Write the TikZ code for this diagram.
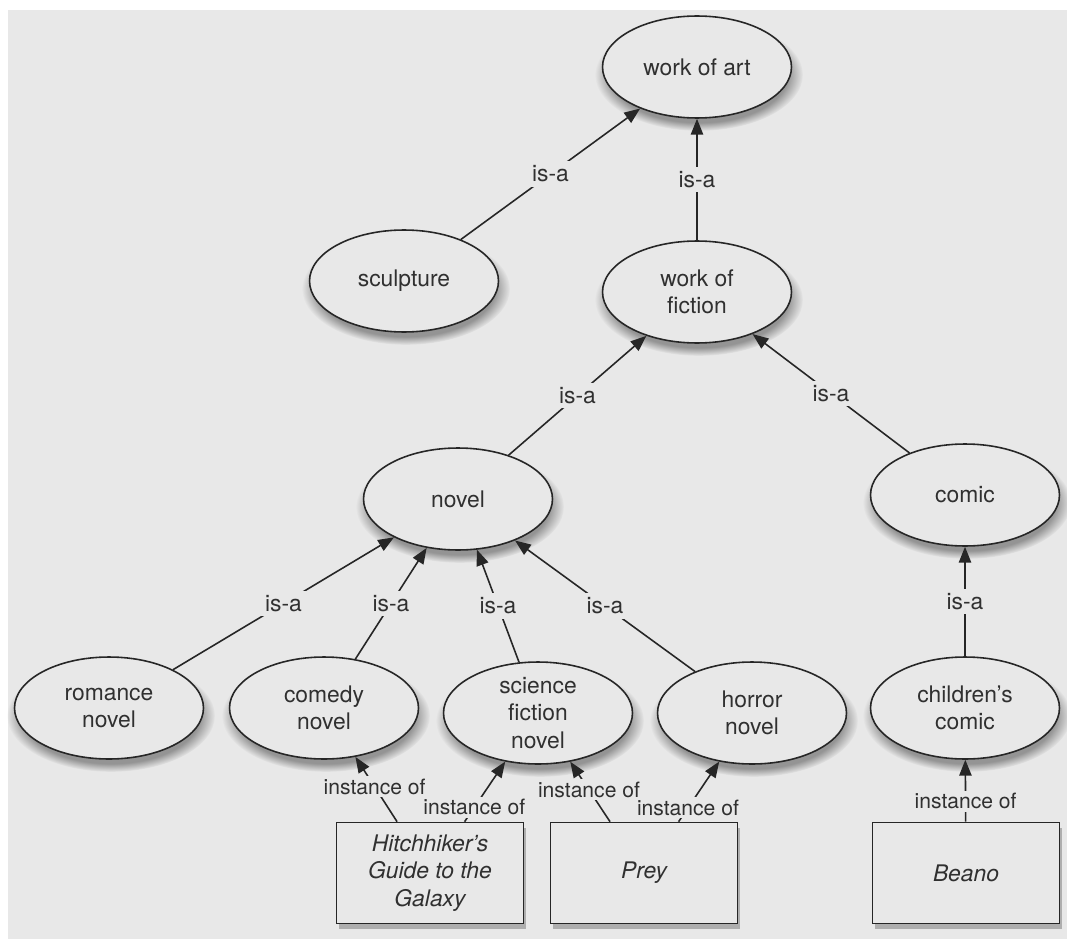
\documentclass[tikz,border=0pt]{standalone}
\usepackage{fontspec}
\setmainfont{TeX Gyre Heros}
\usetikzlibrary{positioning}
\usetikzlibrary{shapes.geometric}
\usetikzlibrary{shadows}
\usetikzlibrary{arrows.meta}
\definecolor{bg}{HTML}{E8E8E8}
\definecolor{ink}{HTML}{303030}

\begin{document}
\begin{tikzpicture}[x=0.02cm, y=-0.02cm,
	concept/.style = {draw=black!85, line width=0.9pt, ellipse, fill=bg, text=ink, align=center, inner sep=0pt, minimum width=3.78cm, minimum height=2.04cm, font=\fontsize{13}{15.5}\selectfont, circular drop shadow={shadow scale=1.1, shadow xshift=1pt, shadow yshift=-4pt, opacity=.8}},
	work/.style = {draw=black!85, line width=0.9pt, rectangle, fill=bg, text=ink, align=center, inner sep=0pt, minimum width=3.74cm, minimum height=2.02cm, font=\fontsize{13}{15.5}\selectfont\itshape, drop shadow={shadow xshift=1.5pt, shadow yshift=-3pt, opacity=.55}},
	rel/.style = {fill=bg, text=ink, inner sep=2.5pt, font=\fontsize{13}{15}\selectfont},
	inst/.style = {fill=bg, text=ink, inner sep=1.5pt, font=\fontsize{12}{14}\selectfont},
	arr/.style = {draw=black!85, line width=0.9pt, -{Triangle[length=9pt,width=7pt]}}]
	% page: white rim on top and left, grey field
	\fill[white] (0,0) rectangle (1067,939);
	\fill[bg] (8,10) rectangle (1067,939);
	\useasboundingbox (0,0) rectangle (1067,939);

	\node[concept] (art) at (697,67) {work of art};
	\node[concept] (sculpture) at (404,281) {sculpture};
	\node[concept] (fiction) at (697,292) {work of\\fiction};
	\node[concept] (novel) at (458,499) {novel};
	\node[concept] (comic) at (965,495) {comic};
	\node[concept] (romance) at (109,708) {romance\\novel};
	\node[concept] (comedy) at (324,708) {comedy\\novel};
	\node[concept] (scifi) at (538,713) {science\\fiction\\novel};
	\node[concept] (horror) at (752,713) {horror\\novel};
	\node[concept] (kidscomic) at (965,708) {children's\\comic};

	\node[work] (hitch) at (430,873) {Hitchhiker's\\Guide to the\\Galaxy};
	\node[work] (prey) at (644,873) {Prey};
	\node[work] (beano) at (966,873) {Beano};

	% is-a
	\draw[arr] (sculpture) -- node[rel] {is-a} (art);
	\draw[arr] (fiction) -- node[rel] {is-a} (art);
	\draw[arr] (novel) -- node[rel] {is-a} (fiction);
	\draw[arr] (comic) -- node[rel] {is-a} (fiction);
	\draw[arr] (romance) -- node[rel] {is-a} (novel);
	\draw[arr] (comedy) -- node[rel] {is-a} (novel);
	\draw[arr] (scifi) -- node[rel] {is-a} (novel);
	\draw[arr] (horror) -- node[rel] {is-a} (novel);
	\draw[arr] (kidscomic) -- node[rel] {is-a} (comic);

	% instance of
	\draw[arr] (hitch) -- node[inst, pos=.54] {instance of} (comedy);
	\draw[arr] (hitch) -- node[inst, pos=.24] {instance of} (scifi);
	\draw[arr] (prey) -- node[inst, pos=.53] {instance of} (scifi);
	\draw[arr] (prey) -- node[inst, pos=.23] {instance of} (horror);
	\draw[arr] (beano) -- node[inst, pos=.33] {instance of} (kidscomic);
\end{tikzpicture}
\end{document}
